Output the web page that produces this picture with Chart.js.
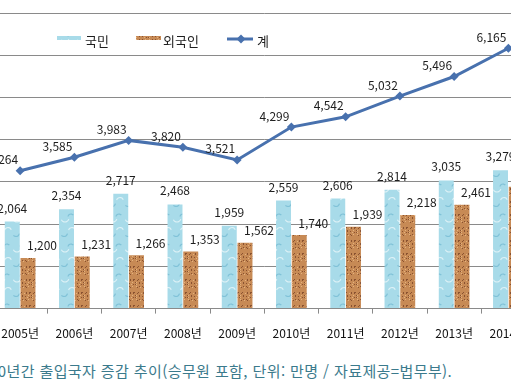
<!DOCTYPE html>
<html lang="ko">
<head>
<meta charset="utf-8">
<title>출입국자 증감 추이</title>
<script src="https://cdn.jsdelivr.net/npm/chart.js@4.4.1/dist/chart.umd.min.js"></script>
<style>
    html, body { margin: 0; padding: 0; background: #fff; overflow: hidden; }
    body { width: 511px; height: 387px; position: relative; }
    /* chart is wider than the window: left and right edges are cropped like the source picture */
    #chartBox { position: absolute; left: -20px; top: 0; width: 560px; height: 353px; }
    .caption {
        position: absolute; left: -11px; top: 360px;
        font: 15px "Noto Sans CJK KR", sans-serif; letter-spacing: 0.4px;
        color: #3b7a8c; white-space: nowrap;
    }
</style>
</head>
<body>
<div id="chartBox"><canvas id="reportChart"></canvas></div>
<div class="caption">10년간 출입국자 증감 추이(승무원 포함, 단위: 만명 / 자료제공=법무부).</div>

<script>
// Data (만명)
const years = ['2005년', '2006년', '2007년', '2008년', '2009년', '2010년', '2011년', '2012년', '2013년', '2014년'];
const citizens = [2064, 2354, 2717, 2468, 1959, 2559, 2606, 2814, 3035, 3279];
const foreigners = [1200, 1231, 1266, 1353, 1562, 1740, 1939, 2218, 2461, 2886];
const totals = [3264, 3585, 3983, 3820, 3521, 4299, 4542, 5032, 5496, 6165];
const seriesNames = ['국민', '외국인', '계'];
const yMax = 7000;
const yStep = 1000;

const FONT = '"Noto Sans CJK KR", "Noto Sans", sans-serif';
const LINE_BLUE = '#4871ae';

// Texture fills (water / cork look of the original bars)
function makeWaterPattern(ctx) {
    const c = document.createElement('canvas');
    c.width = 16; c.height = 30;
    const g = c.getContext('2d');
    g.fillStyle = '#a8dbe9';
    g.fillRect(0, 0, 16, 30);
    g.lineWidth = 1.2;
    g.strokeStyle = 'rgba(255,255,255,0.6)';
    g.beginPath(); g.arc(5, 8, 4, 0.3, 2.7); g.stroke();
    g.beginPath(); g.arc(12, 21, 3.5, 3.4, 5.9); g.stroke();
    g.strokeStyle = 'rgba(80,165,195,0.45)';
    g.beginPath(); g.arc(11, 7, 3, 3.3, 5.6); g.stroke();
    g.beginPath(); g.arc(4, 23, 3.5, 0.2, 2.4); g.stroke();
    return ctx.createPattern(c, 'repeat');
}

function makeCorkPattern(ctx) {
    const c = document.createElement('canvas');
    c.width = 13; c.height = 13;
    const g = c.getContext('2d');
    g.fillStyle = '#c78a55';
    g.fillRect(0, 0, 13, 13);
    for (let i = 0; i < 26; i++) {
        const x = (i * 7 + (i >> 2)) % 13;
        const y = (i * 5 + i * i) % 13;
        g.fillStyle = i % 3 === 0 ? '#e3b27f' : '#8a5230';
        g.fillRect(x, y, 1, 1);
    }
    return ctx.createPattern(c, 'repeat');
}

// Value labels next to bars and points
const valueLabels = {
    id: 'valueLabels',
    afterDatasetsDraw(chart) {
        const ctx = chart.ctx;
        ctx.save();
        ctx.font = '12px ' + FONT;
        ctx.fillStyle = '#1e1e1e';
        ctx.textAlign = 'center';
        ctx.textBaseline = 'middle';
        chart.data.datasets.forEach((ds, i) => {
            chart.getDatasetMeta(i).data.forEach((el, j) => {
                const text = ds.data[j].toLocaleString('en-US');
                let x = el.x, y = el.y;
                if (ds.type === 'line') { x -= 17; y -= 11; }
                else if (i === 1) { x += 14; y -= 12; }
                else { y -= 13.5; }
                ctx.fillText(text, x, y);
            });
        });
        ctx.restore();
    }
};

// Legend drawn inside the plot, like the Excel original
const insideLegend = {
    id: 'insideLegend',
    afterDraw(chart) {
        const ctx = chart.ctx;
        const fills = chart.data.datasets.map(d => d.backgroundColor);
        ctx.save();
        ctx.font = '13px ' + FONT;
        ctx.textBaseline = 'middle';
        // bar swatches
        ctx.fillStyle = fills[0];
        ctx.fillRect(77, 36, 24, 4);
        ctx.fillStyle = fills[1];
        ctx.fillRect(156, 36, 25, 4);
        // line swatch
        ctx.strokeStyle = LINE_BLUE;
        ctx.lineWidth = 3;
        ctx.beginPath(); ctx.moveTo(247, 39); ctx.lineTo(273, 39); ctx.stroke();
        ctx.fillStyle = LINE_BLUE;
        ctx.beginPath();
        ctx.moveTo(261, 34.5); ctx.lineTo(265.5, 39); ctx.lineTo(261, 43.5); ctx.lineTo(256.5, 39);
        ctx.closePath(); ctx.fill();
        ctx.fillStyle = '#1e1e1e';
        ctx.fillText(seriesNames[0], 105, 41);
        ctx.fillText(seriesNames[1], 183, 41);
        ctx.fillText(seriesNames[2], 277, 41);
        ctx.restore();
    }
};

function renderChart(canvas) {
    const ctx = canvas.getContext('2d');

    new Chart(ctx, {
        data: {
            labels: years,
            datasets: [{
                type: 'bar',
                label: seriesNames[0],
                data: citizens,
                backgroundColor: makeWaterPattern(ctx),
                categoryPercentage: 0.58,
                barPercentage: 0.95,
                order: 1
            }, {
                type: 'bar',
                label: seriesNames[1],
                data: foreigners,
                backgroundColor: makeCorkPattern(ctx),
                categoryPercentage: 0.58,
                barPercentage: 0.95,
                order: 1
            }, {
                type: 'line',
                label: seriesNames[2],
                data: totals,
                borderColor: LINE_BLUE,
                backgroundColor: LINE_BLUE,
                borderWidth: 3,
                pointStyle: 'rectRot',
                pointRadius: 4.5,
                pointBorderWidth: 0,
                tension: 0,
                order: 0
            }]
        },
        options: {
            responsive: true,
            maintainAspectRatio: false,
            animation: false,
            devicePixelRatio: 1,
            layout: { padding: { left: 13, right: 4, top: 13, bottom: 0 } },
            plugins: {
                legend: { display: false },
                tooltip: { enabled: false }
            },
            scales: {
                y: {
                    min: 0,
                    max: yMax,
                    ticks: { stepSize: yStep, display: false },
                    grid: { color: '#8a8a8a', drawTicks: false },
                    border: { display: false }
                },
                x: {
                    offset: true,
                    grid: { offset: true, drawOnChartArea: false, color: '#8a8a8a', tickLength: 5 },
                    border: { display: true, color: '#8a8a8a' },
                    ticks: { color: '#111', padding: 12.5, font: { family: FONT, size: 12 }, maxRotation: 0 }
                }
            }
        },
        plugins: [valueLabels, insideLegend]
    });
}

renderChart(document.getElementById('reportChart'));
</script>
</body>
</html>
